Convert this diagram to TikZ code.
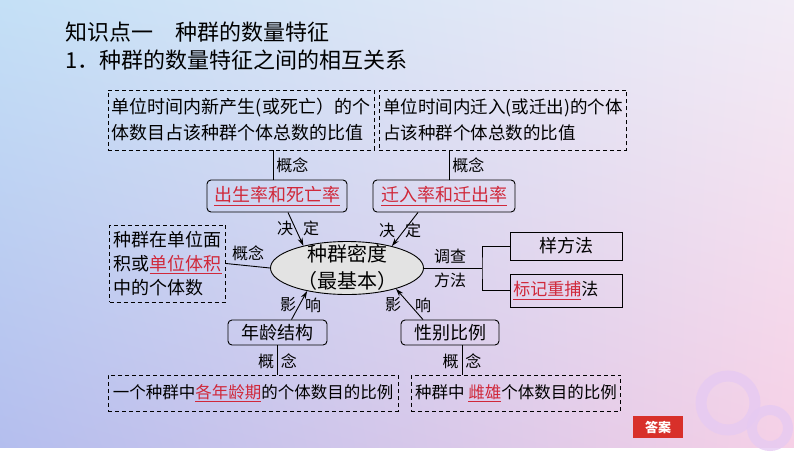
\documentclass[tikz,border=0pt]{standalone}
\usepackage{fontspec}
\setmainfont{Noto Sans CJK SC}
\usetikzlibrary{arrows.meta, positioning, shapes.geometric, calc, shadings}
\definecolor{keyred}{HTML}{D0283A}
\definecolor{bgblue}{HTML}{C4E0F6}
\definecolor{bglav}{HTML}{B4BEEE}
\definecolor{bgpink}{HTML}{F6D0E6}
\definecolor{bgwhite}{HTML}{F2ECF6}
\definecolor{ringcol}{HTML}{E6CAF2}
\definecolor{ansred}{HTML}{D8302A}
\newcommand{\keyword}[1]{{\color{keyred}\underline{#1}}}

\begin{document}
\begin{tikzpicture}[x=1pt, y=-1pt,
  defbox/.style={rectangle, draw, dashed, dash pattern=on 4pt off 3pt,
                 line width=0.9pt, align=left, inner sep=4pt,
                 font=\fontsize{18}{26}\selectfont},
  ratebox/.style={rectangle, draw, rounded corners=4pt, line width=0.9pt,
                  align=center, font=\fontsize{18}{22}\selectfont},
  methbox/.style={rectangle, draw, line width=0.9pt,
                  font=\fontsize{18}{22}\selectfont},
  dens/.style={ellipse, draw, line width=0.9pt, fill=gray!22,
               minimum width=153pt, minimum height=53pt, inner sep=0pt},
  tag/.style={font=\fontsize{16}{18}\selectfont, inner sep=1pt},
  link/.style={line width=0.9pt},
  arr/.style={line width=0.9pt, -{Stealth[length=8pt, width=5pt]}},
]

% ---- 背景 ----
\shade[upper left=bgblue, upper right=bgwhite, lower left=bglav,
       lower right=bgpink] (0,0) rectangle (794,447);
\draw[ringcol, line width=11pt, opacity=0.8] (728,403) circle (27);
\draw[ringcol, line width=10pt, opacity=0.8] (770,428) circle (18);

% ---- 标题 ----
\node[anchor=west, font=\fontsize{22}{24}\selectfont] (title) at (62,32)
  {知识点一\hspace{1em}种群的数量特征};
\node[anchor=west, font=\fontsize{22}{24}\selectfont] (subtitle) at (62,60)
  {1．种群的数量特征之间的相互关系};

% ---- 概念框 ----
\node[defbox, minimum width=262pt, minimum height=60pt] (birthdef) at (241,120)
  {单位时间内新产生(或死亡）的个\\体数目占该种群个体总数的比值};
\node[defbox, minimum width=234pt, minimum height=60pt,
      font=\fontsize{17.5}{26}\selectfont] (migdef) at (503,120)
  {单位时间内迁入(或迁出)的个体\\占该种群个体总数的比值};
\node[defbox, minimum width=115pt, minimum height=77pt,
      font=\fontsize{18}{24}\selectfont] (densdef) at (167.5,263.5)
  {种群在单位面\\积或\keyword{单位体积}\\中的个体数};
\node[defbox, minimum width=290pt, minimum height=36pt,
      font=\fontsize{16.5}{20}\selectfont] (agedef) at (253,393)
  {一个种群中\keyword{各年龄期}的个体数目的比例};
\node[defbox, minimum width=208pt, minimum height=36pt,
      font=\fontsize{16.5}{20}\selectfont] (sexdef) at (516,393)
  {种群中 \keyword{雌雄}个体数目的比例};

% ---- 特征 ----
\node[ratebox, minimum width=140pt, minimum height=32pt] (birth) at (277,196)
  {\keyword{出生率和死亡率}};
\node[ratebox, minimum width=142pt, minimum height=32pt] (mig) at (444,196)
  {\keyword{迁入率和迁出率}};
\node[ratebox, minimum width=99pt, minimum height=25pt] (age) at (277.5,332.5)
  {年龄结构};
\node[ratebox, minimum width=98pt, minimum height=25pt] (sex) at (450,332.5)
  {性别比例};

% ---- 种群密度 ----
\node[dens] (density) at (347,268) {};
\node[align=center, font=\fontsize{20}{27}\selectfont] (denstext) at (347,267)
  {种群密度\\（最基本）};

% ---- 调查方法 ----
\node[methbox, minimum width=112pt, minimum height=28pt] (quadrat) at (566,246)
  {样方法};
\node[methbox, minimum width=112pt, minimum height=33pt, anchor=west,
      font=\fontsize{17}{22}\selectfont, text width=106pt, inner sep=3pt]
  (capture) at (510,290.5) {\keyword{标记重捕}法};
\coordinate (fork) at (482,268);

% ---- 连线 ----
\coordinate (birthtop) at (273,180);
\coordinate (migtop) at (449,180);
\coordinate (sexfoot) at ([xshift=12pt]sex.south);
\draw[link] (birthtop) -- (birthtop |- birthdef.south)
  node[tag, midway, right=2pt] (tagA) {概念};
\draw[link] (migtop) -- (migtop |- migdef.south)
  node[tag, midway, right=2pt] (tagB) {概念};
\draw[link] (densdef.east) -- (density.west)
  node[tag, midway, above=3pt] (tagE) {概念};
\draw[link] (age.south) -- (age.south |- agedef.north)
  node[tag, pos=0.55, left=2pt] (tagH1) {概}
  node[tag, pos=0.55, right=2pt] (tagH2) {念};
\draw[link] (sexfoot) -- (sexfoot |- sexdef.north)
  node[tag, pos=0.55, left=2pt] (tagI1) {概}
  node[tag, pos=0.55, right=2pt] (tagI2) {念};

\draw[link] (density.east) -- (fork)
  node[tag, pos=0.45, above=3pt] (tagM1) {调查}
  node[tag, pos=0.45, below=4pt] (tagM2) {方法};
\draw[link] (quadrat.west) -| (fork) |- (capture.west);

% ---- 决定 / 影响 ----
\draw[arr] ([xshift=11pt]birth.south) -- (density.153);
\draw[arr] ([xshift=-26pt]mig.south) -- (density.26);
\draw[arr] ([xshift=14pt]age.north) -- (density.210);
\draw[arr] ([xshift=-27pt]sex.north) -- (density.337);
\node[tag] (jue1)   at (285,228) {决};
\node[tag] (ding1)  at (311,228) {定};
\node[tag] (jue2)   at (387,230) {决};
\node[tag] (ding2)  at (413,230) {定};
\node[tag] (ying1)  at (288,305) {影};
\node[tag] (xiang1) at (313,305) {响};
\node[tag] (ying2)  at (393,305) {影};
\node[tag] (xiang2) at (423,305) {响};

% ---- 答案 ----
\node[fill=ansred, text=white, minimum width=50pt, minimum height=22pt,
      font=\fontsize{13}{14}\selectfont\bfseries, inner sep=0pt] (answer)
  at (658,427) {答案};

\end{tikzpicture}
\end{document}
